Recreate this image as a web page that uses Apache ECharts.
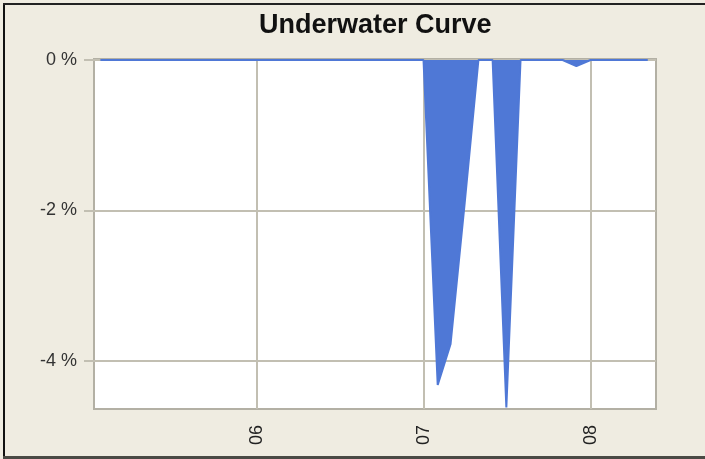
<!DOCTYPE html>
<html><head><meta charset="utf-8">
<script src="https://cdn.jsdelivr.net/npm/echarts@6/dist/echarts.min.js"></script>
<style>
html,body{margin:0;padding:0;background:#efece1;}
#wrap{position:relative;width:705px;height:459px;background:#efece1;overflow:hidden;}
#chart{position:absolute;left:0;top:0;width:705px;height:459px;}
#fl{position:absolute;left:3px;top:4px;width:2px;height:453px;background:#111;}
#ft{position:absolute;left:3px;top:3px;width:702px;height:2px;background:#222;}
#fb{position:absolute;left:3px;top:456px;width:702px;height:3px;background:#4a4a44;}
</style></head>
<body><div id="wrap"><div id="chart"></div><div id="fl"></div><div id="ft"></div><div id="fb"></div></div>
<script>
// Underwater curve (drawdown, %), month-end points
const dates = ['2005-01-24','2006-12-31','2007-01-31','2007-02-28','2007-03-31','2007-04-30','2007-05-31','2007-06-30','2007-07-31','2007-10-31','2007-11-30','2007-12-31','2008-05-04'];
const drawdown = [0, 0, -4.32, -3.78, -1.9, 0, 0, -4.62, 0, 0, -0.08, 0, 0];
const xTickDates = ['2006-01-01','2007-01-01','2008-01-01'];
const yTicks = [-4, -2, 0];

const chart = echarts.init(document.getElementById('chart'));
const ts = s => new Date(s + 'T00:00:00Z').getTime();
const data = dates.map((d, i) => [ts(d), drawdown[i]]);
const gridColor = '#c2bfb2';
chart.setOption({
  backgroundColor: 'transparent',
  animation: false,
  title: {
    text: 'Underwater Curve', left: 254, top: 7,
    textStyle: {fontFamily: 'Liberation Sans', fontSize: 27, fontWeight: 'bold', color: '#111'}
  },
  grid: {left: 94, top: 59, right: 49, bottom: 50, show: true, backgroundColor: '#ffffff', borderColor: '#b3b0a4', borderWidth: 2},
  xAxis: {
    type: 'value',
    min: ts('2005-01-10'), max: ts('2008-05-22'),
    axisLine: {show: false},
    axisTick: {show: true, length: 8, lineStyle: {color: gridColor, width: 2}, customValues: xTickDates.map(ts)},
    axisLabel: {
      customValues: xTickDates.map(ts), rotate: 90, margin: 16,
      fontFamily: 'Liberation Sans', fontSize: 18, color: '#222',
      formatter: v => String(new Date(v).getUTCFullYear()).slice(2)
    },
    splitLine: {show: true, lineStyle: {color: gridColor, width: 2}}
  },
  yAxis: {
    type: 'value', min: -4.64, max: 0.013,
    axisLine: {show: false},
    axisTick: {show: true, length: 10, lineStyle: {color: gridColor, width: 2}, customValues: yTicks},
    axisLabel: {customValues: yTicks, margin: 17, fontFamily: 'Liberation Sans', fontSize: 18, color: '#333', formatter: v => v + ' %'},
    splitLine: {show: true, lineStyle: {color: gridColor, width: 2}}
  },
  series: [{
    type: 'line', data: data, symbol: 'none',
    lineStyle: {color: '#4f78d6', width: 2},
    areaStyle: {color: '#4f78d6', opacity: 1, origin: 0}
  }]
});
</script></body></html>
